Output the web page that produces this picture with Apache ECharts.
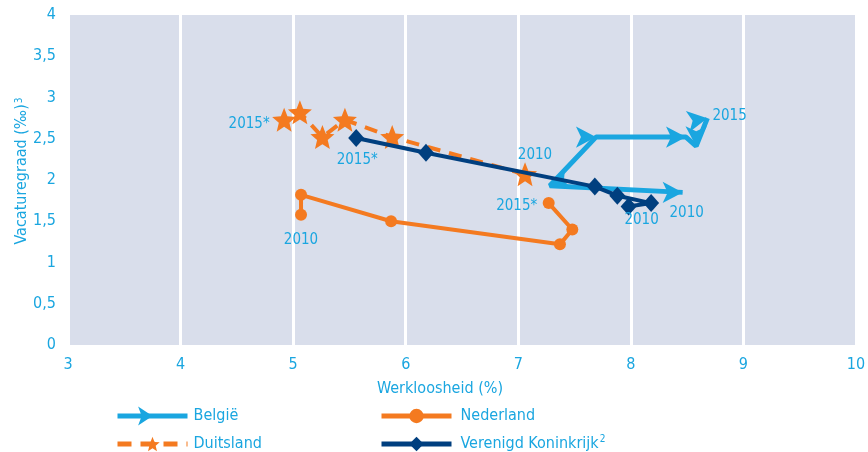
<!DOCTYPE html>
<html>
<head>
<meta charset="utf-8">
<script src="https://cdn.jsdelivr.net/npm/echarts@6/dist/echarts.min.js"></script>
<style>
  html, body { margin: 0; padding: 0; background: #fff; }
  #chart { width: 868px; height: 452px; }
</style>
</head>
<body>
<div id="chart"></div>
<script>
  // werkloosheid (%) en vacaturegraad, 2010 - 2015
  var belgie = [[8.46, 1.85], [7.28, 1.93], [7.69, 2.52], [8.49, 2.52], [8.58, 2.41], [8.68, 2.75]]
  var duitsland = [[7.06, 2.07], [5.88, 2.52], [5.46, 2.73], [5.26, 2.52], [5.06, 2.82], [4.92, 2.73]]
  var nederland = [[5.07, 1.58], [5.07, 1.82], [5.87, 1.50], [7.37, 1.22], [7.48, 1.40], [7.27, 1.72]]
  var vk = [[7.98, 1.68], [8.18, 1.72], [7.88, 1.81], [7.68, 1.92], [6.18, 2.33], [5.56, 2.51]]
  var belgieRotate = [-90, 110, -90, -90, 180, -80]
  var firstLabels = ['2010', '2010', '2010', '2010']
  var lastLabels = ['2015', '2015*', '2015*', '2015*']

  var blue = '#1aa6e0'
  var orange = '#f47a20'
  var navy = '#003f7f'
  var font = "'DejaVu Sans Condensed', 'Liberation Sans Narrow', sans-serif"
  var star = 'path://M0,-10 L2.6,-3.6 L9.5,-3.1 L4.2,1.3 L5.9,8.1 L0,4.4 L-5.9,8.1 L-4.2,1.3 L-9.5,-3.1 L-2.6,-3.6 Z'

  var chart = echarts.init(document.getElementById('chart'))

  function pointLabel (text, offset) {
    return {
      show: true,
      position: 'inside',
      offset: offset,
      formatter: text,
      color: blue,
      fontSize: 15,
      fontFamily: font
    }
  }

  function withLabels (data, first, firstOffset, last, lastOffset) {
    return data.map(function (item, i) {
      var d = { value: item }
      if (i === 0) d.label = pointLabel(first, firstOffset)
      if (i === data.length - 1) d.label = pointLabel(last, lastOffset)
      return d
    })
  }

  function legendItem (name, left, top, textLeft, extra) {
    var l = {
      left: left,
      top: top,
      itemWidth: 70,
      itemHeight: 18,
      data: [name],
      lineStyle: { width: 5 },
      textStyle: {
        color: blue,
        fontSize: 16,
        lineHeight: 20,
        fontFamily: font,
        padding: [0, 0, 0, textLeft],
        rich: { sup: { fontSize: 10, lineHeight: 20, verticalAlign: 'top', color: blue, fontFamily: font, padding: [0, 0, 8, 1] } }
      }
    }
    return Object.assign(l, extra || {})
  }

  var belgieData = withLabels(belgie, firstLabels[0], [14, 21], lastLabels[0], [32, -4])
  belgieData.forEach(function (d, i) { d.symbolRotate = belgieRotate[i] })

  var option = {
    animation: false,
    grid: {
      left: 68,
      right: 12,
      top: 15,
      bottom: 107,
      containLabel: false,
      outerBoundsMode: 'none',
      show: true,
      backgroundColor: '#d9deeb',
      borderWidth: 0
    },
    legend: [
      legendItem('België', 110, 401, 1, { symbolRotate: -90 }),
      legendItem('Duitsland', 110, 429, 1, { lineStyle: { width: 5, type: [14, 9] } }),
      legendItem('Nederland', 374, 401, 4),
      legendItem('Verenigd Koninkrijk', 374, 429, 4, {
        formatter: function (name) { return name + '{sup|2}' }
      })
    ],
    xAxis: {
      type: 'value',
      min: 3,
      max: 10,
      interval: 1,
      name: 'Werkloosheid (%)',
      nameLocation: 'middle',
      nameGap: 36,
      nameMoveOverlap: false,
      nameTextStyle: { color: blue, fontSize: 16, fontFamily: font, padding: [0, 44, 0, 0] },
      axisLine: { show: false },
      axisTick: { show: false },
      axisLabel: { color: blue, fontSize: 16, fontFamily: font, margin: 12 },
      splitLine: { show: true, lineStyle: { color: '#ffffff', width: 3 } }
    },
    yAxis: {
      type: 'value',
      min: 0,
      max: 4,
      interval: 0.5,
      name: 'Vacaturegraad (‰){sup|3}',
      nameLocation: 'middle',
      nameGap: 38,
      nameMoveOverlap: false,
      nameTextStyle: {
        color: blue,
        fontSize: 16,
        fontFamily: font,
        padding: [0, 0, 0, 18],
        rich: { sup: { fontSize: 10, verticalAlign: 'top', color: blue, fontFamily: font, padding: [0, 0, 6, 1] } }
      },
      axisLine: { show: false },
      axisTick: { show: false },
      axisLabel: {
        color: blue,
        fontSize: 16,
        fontFamily: font,
        margin: 12,
        formatter: function (v) { return String(v).replace('.', ',') }
      },
      splitLine: { show: false }
    },
    series: [{
      name: 'België',
      type: 'line',
      data: belgieData,
      symbol: 'arrow',
      symbolRotate: -90,
      symbolSize: [16, 20],
      itemStyle: { color: blue },
      lineStyle: { color: blue, width: 5 },
      z: 2
    }, {
      name: 'Duitsland',
      type: 'line',
      data: withLabels(duitsland, firstLabels[1], [10, -19], lastLabels[1], [-35, 4]),
      symbol: star,
      symbolSize: 24,
      itemStyle: { color: orange },
      lineStyle: { color: orange, width: 4, type: [13, 9] },
      z: 3
    }, {
      name: 'Nederland',
      type: 'line',
      data: withLabels(nederland, firstLabels[2], [0, 25], lastLabels[2], [-32, 3]),
      symbol: 'circle',
      symbolSize: 12,
      itemStyle: { color: orange },
      lineStyle: { color: orange, width: 4 },
      z: 2
    }, {
      name: 'Verenigd Koninkrijk',
      type: 'line',
      data: withLabels(vk, firstLabels[3], [13, 14], lastLabels[3], [1, 22]),
      symbol: 'diamond',
      symbolSize: [16, 18],
      itemStyle: { color: navy },
      lineStyle: { color: navy, width: 4 },
      z: 4
    }]
  }

  chart.setOption(option)
</script>
</body>
</html>
